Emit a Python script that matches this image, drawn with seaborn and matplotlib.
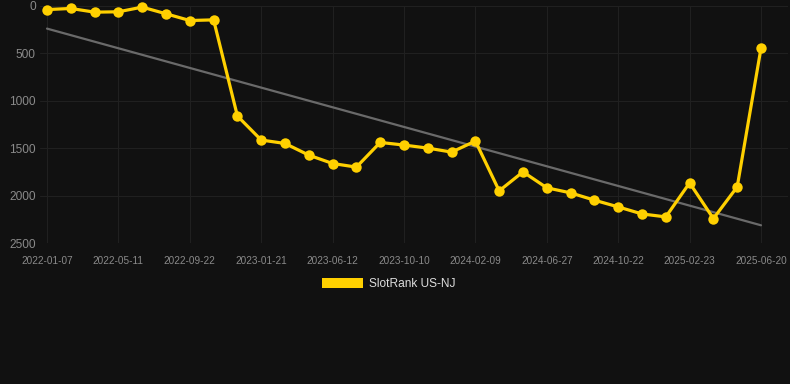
import numpy as np
import pandas as pd
import matplotlib
matplotlib.use("Agg")
import matplotlib.pyplot as plt
from matplotlib.patches import Patch
import seaborn as sns

# dates of the samples (only every third one is labelled in the chart)
dates = ['2022-01-07', '2022-02-18', '2022-03-30', '2022-05-11', '2022-06-24',
         '2022-08-08', '2022-09-22', '2022-11-02', '2022-12-12', '2023-01-21',
         '2023-03-07', '2023-04-25', '2023-06-12', '2023-07-25', '2023-08-28',
         '2023-10-10', '2023-11-20', '2023-12-29', '2024-02-09', '2024-03-24',
         '2024-05-12', '2024-06-27', '2024-08-09', '2024-09-17', '2024-10-22',
         '2024-12-04', '2025-01-13', '2025-02-23', '2025-04-05', '2025-05-14',
         '2025-06-20']
rank = [40, 28, 67, 63, 14, 84, 155, 148, 1160, 1413, 1449, 1572, 1660, 1698,
        1438, 1466, 1498, 1540, 1424, 1948, 1748, 1916, 1969, 2046, 2117, 2191,
        2222, 1864, 2240, 1906, 446]
series_name = 'SlotRank US-NJ'
yticks = [0, 500, 1000, 1500, 2000, 2500]

bg = '#111111'
gold = '#FFD000'

sns.set_theme(style='dark')
plt.rcParams['font.family'] = ['Liberation Sans', 'DejaVu Sans']

df = pd.DataFrame({'date': dates, 'rank': rank, 'idx': np.arange(len(dates))})

fig = plt.figure(figsize=(7.9, 3.84), dpi=100, facecolor=bg)
W, H = 790, 384
ax = fig.add_axes([40 / W, 1 - 243.3 / H, 748 / W, (243.3 - 5.8) / H])
ax.set_facecolor(bg)

# trend line
sns.regplot(data=df, x='idx', y='rank', scatter=False, ci=None, ax=ax,
            line_kws=dict(color='#6a6a6a', lw=1.6, zorder=2))

sns.lineplot(data=df, x='idx', y='rank', ax=ax, color=gold, lw=2.3,
             marker='o', markersize=7.5, markeredgewidth=0, zorder=3,
             clip_on=False)

unit = 714 / 30
ax.set_xlim(-7 / unit, 30 + 27 / unit)
ax.set_ylim(2500, 0)
ax.set_yticks(yticks)
ax.set_yticklabels([str(v) for v in yticks])
ax.set_xticks(df['idx'][::3])
ax.set_xticklabels(df['date'][::3])
ax.tick_params(axis='y', length=0, pad=3, labelsize=8.6, labelcolor='#8a8a8a')
ax.tick_params(axis='x', length=0, pad=9, labelsize=7.2, labelcolor='#8a8a8a')
ax.grid(True, color='#202020', lw=0.8)
ax.set_xlabel('')
ax.set_ylabel('')
for s in ax.spines.values():
    s.set_visible(False)

fig.legend(handles=[Patch(facecolor=gold, edgecolor='none', label=series_name)],
           loc='center', bbox_to_anchor=(389 / W, 1 - 284 / H), frameon=False,
           fontsize=8.6, labelcolor='#dddddd', handlelength=3.4,
           handleheight=1.0, handletextpad=0.5)

fig.savefig('out.png', dpi=100, facecolor=bg)
